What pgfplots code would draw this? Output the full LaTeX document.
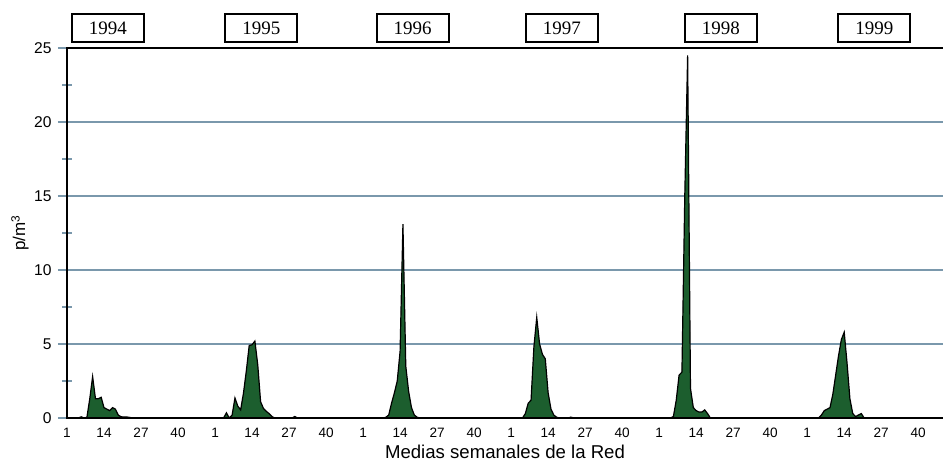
\documentclass[border=0pt]{standalone}
\usepackage{fontspec}
\setmainfont{Liberation Sans}
\newfontfamily\yearfont{Liberation Serif}
\usepackage{pgfplots}
\pgfplotsset{compat=1.18}
\definecolor{gridcol}{RGB}{122,152,172}
\definecolor{pollen}{RGB}{28,94,46}

% weekly means, x = (year-1994)*52 + week
\pgfplotstableread{
x y
1 0
5 0
6 0.08
7 0
8 0.05
9 1.3
10 2.8
11 1.3
12 1.3
13 1.4
14 0.7
15 0.6
16 0.5
17 0.7
18 0.6
19 0.2
20 0.08
22 0.07
23 0.04
24 0
56 0
57 0.35
58 0
59 0.2
60 1.35
61 0.8
62 0.55
63 1.7
64 3.2
65 4.9
66 4.95
67 5.2
68 3.6
69 1.1
70 0.65
71 0.45
72 0.3
73 0.1
74 0
80 0
81 0.1
82 0
112 0
113 0.05
114 0.2
115 1.0
116 1.7
117 2.5
118 4.5
119 13.1
120 3.5
121 1.8
122 0.7
123 0.2
124 0.05
125 0
161 0
162 0.3
163 1.0
164 1.2
165 4.8
166 6.8
167 5.0
168 4.3
169 4.0
170 1.7
171 0.6
172 0.2
173 0.05
174 0
177 0
178 0.06
179 0
213 0
214 0.1
215 1.2
216 2.9
217 3.1
218 15
219 24.5
220 2.0
221 0.7
222 0.5
223 0.4
224 0.4
225 0.55
226 0.3
227 0
265 0
266 0.2
267 0.5
268 0.6
269 0.7
270 1.6
271 2.9
272 4.2
273 5.3
274 5.8
275 3.7
276 1.3
277 0.3
278 0.1
279 0.2
280 0.3
281 0
308.7 0
}\weekly

\begin{document}
\begin{tikzpicture}[
  yearbox/.style={draw, line width=1pt, minimum width=36pt, minimum height=14pt, inner sep=0pt, yshift=10pt, font=\yearfont\fontsize{9.5}{11}\selectfont},
]
\begin{axis}[
  at={(0,0)}, anchor=south west,
  scale only axis, width=438pt, height=185pt,
  xmin=1, xmax=308.7, ymin=0, ymax=25,
  clip=false,
  axis line style={draw=none},
  xtick={1,14,27,40,53,66,79,92,105,118,131,144,157,170,183,196,209,222,235,248,261,274,287,300},
  xticklabels={1,14,27,40,1,14,27,40,1,14,27,40,1,14,27,40,1,14,27,40,1,14,27,40},
  xtick style={draw=none},
  ytick={0,5,...,25},
  minor ytick={2.5,7.5,...,22.5},
  ytick pos=left,
  tick align=center,
  major tick length=9pt,
  minor tick length=4.5pt,
  ytick style={gridcol, line width=0.8pt},
  ymajorgrids,
  major grid style={gridcol, line width=0.8pt},
  /pgf/number format/assume math mode=true,
  yticklabel style={font=\fontsize{7.8}{9}\selectfont, inner sep=0pt, anchor=east, xshift=-3pt},
  xticklabel style={font=\fontsize{6.8}{8}\selectfont, inner sep=0pt, anchor=base, yshift=-5pt},
  xlabel={Medias semanales de la Red},
  xlabel style={at={([yshift=-20pt]rel axis cs:0.5,0)}, anchor=base, inner sep=0pt, font=\fontsize{9.3}{11}\selectfont},
  ylabel={p/m\textsuperscript{3}},
  ylabel style={at={([xshift=-23.5pt]rel axis cs:0,0.5)}, anchor=center, inner sep=0pt, font=\fontsize{8.5}{10}\selectfont},
]
\addplot[fill=pollen, draw=black, line width=0.6pt] table[x=x, y=y] {\weekly} \closedcycle;
\draw[line width=1pt] (rel axis cs:1,1) -- (rel axis cs:0,1) -- (rel axis cs:0,0) -- (rel axis cs:1,0);
\node[yearbox] at (axis cs:15.4,25) {1994};
\node[yearbox] at (axis cs:69.3,25) {1995};
\node[yearbox] at (axis cs:122.4,25) {1996};
\node[yearbox] at (axis cs:174.8,25) {1997};
\node[yearbox] at (axis cs:230.7,25) {1998};
\node[yearbox] at (axis cs:284.6,25) {1999};
\end{axis}
\pgfresetboundingbox
\path (-33.5pt,-22.5pt) rectangle (438pt,209pt);
\end{tikzpicture}
\end{document}
